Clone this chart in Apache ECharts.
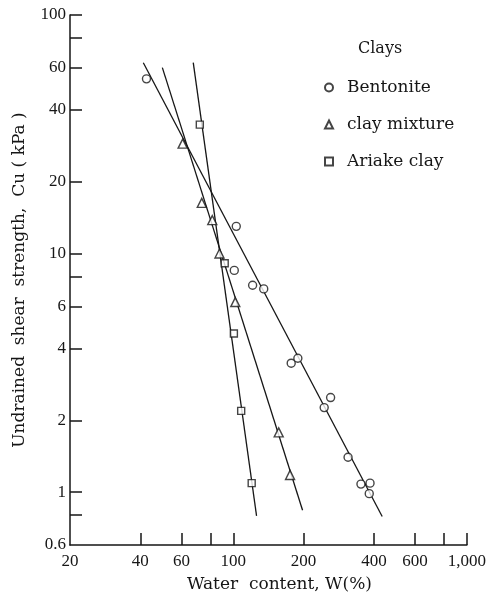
<!DOCTYPE html>
<html>
<head>
<meta charset="utf-8">
<script src="https://cdn.jsdelivr.net/npm/echarts@6/dist/echarts.min.js"></script>
<style>
  html, body { margin: 0; padding: 0; background: #fff; }
  #chart { width: 489px; height: 598px; }
</style>
</head>
<body>
<div id="chart"></div>
<script>
// measured points, water content W (%) vs undrained shear strength Cu (kPa)
const bentoniteW = [42.5, 103, 101, 121, 135, 177, 189, 245, 261, 310, 352, 385, 382];
const bentoniteCu = [54, 13.0, 8.5, 7.36, 7.11, 3.47, 3.64, 2.26, 2.49, 1.40, 1.08, 1.09, 0.985];
const mixtureW = [60.7, 73.3, 81.3, 87.3, 102, 156.5, 175];
const mixtureCu = [28.9, 16.3, 13.8, 10.0, 6.26, 1.78, 1.18];
const ariakeW = [71.9, 91.9, 100.6, 108.1, 119.9];
const ariakeCu = [34.7, 9.11, 4.62, 2.19, 1.09];

// fitted straight lines (end points)
const bentoniteFitW = [41.2, 434];
const bentoniteFitCu = [63.1, 0.79];
const mixtureFitW = [49.7, 198];
const mixtureFitCu = [60.2, 0.839];
const ariakeFitW = [67.4, 125.8];
const ariakeFitCu = [63.1, 0.795];

// axis ticks / labels
const xTicks = [40, 60, 80, 100, 200, 400, 600, 800, 1000];
const xLabels = [20, 40, 60, 100, 200, 400, 600, 1000];
const yTicks = [0.8, 1, 2, 4, 6, 8, 10, 20, 40, 60, 80, 100];
const yLabels = [0.6, 1, 2, 4, 6, 10, 20, 40, 60, 100];

const ink = '#161616';
const serif = 'DejaVu Serif';
const numFont = 'Liberation Serif';

function pairs(xs, ys) {
  return xs.map((x, i) => [x, ys[i]]);
}

function pointSeries(name, symbol, size, xs, ys) {
  return {
    name: name,
    type: 'scatter',
    symbol: symbol,
    symbolSize: size,
    z: 3,
    itemStyle: { color: '#fff', borderColor: ink, borderWidth: 1.4 },
    data: pairs(xs, ys)
  };
}

function fitSeries(name, xs, ys) {
  return {
    name: name,
    type: 'line',
    showSymbol: false,
    symbol: 'none',
    z: 2,
    lineStyle: { color: ink, width: 1.3 },
    data: pairs(xs, ys),
    silent: true
  };
}

let myChart = echarts.init(document.getElementById('chart'));
myChart.setOption({
  animation: false,
  backgroundColor: '#fff',
  title: {
    text: 'Clays',
    left: 353,
    top: 36,
    textStyle: { fontFamily: serif, fontSize: 16, fontWeight: 'normal', color: ink }
  },
  legend: {
    data: ['Bentonite', 'clay mixture', 'Ariake clay'],
    orient: 'vertical',
    left: 319,
    top: 74,
    itemWidth: 8,
    itemHeight: 8,
    itemGap: 20,
    textStyle: { fontFamily: serif, fontSize: 17, color: ink, padding: [0, 0, 0, 9] }
  },
  grid: { left: 70, right: 17, top: 15, bottom: 51 },
  xAxis: {
    type: 'log',
    logBase: 10,
    min: 20,
    max: 1000,
    name: 'Water  content, W(%)',
    nameLocation: 'middle',
    nameGap: 31,
    nameTextStyle: { fontFamily: serif, fontSize: 17, color: ink, padding: [0, 0, 0, 22] },
    axisLine: { show: true, lineStyle: { color: ink, width: 1.5 } },
    axisTick: { show: true, inside: true, length: 12, customValues: xTicks, lineStyle: { color: ink, width: 1.5 } },
    axisLabel: {
      customValues: xLabels,
      margin: 8,
      fontFamily: numFont,
      fontSize: 17,
      color: ink,
      formatter: v => (v >= 1000 ? '1,000' : String(v))
    },
    splitLine: { show: false },
    minorTick: { show: false }
  },
  yAxis: {
    type: 'log',
    logBase: 10,
    min: 0.6,
    max: 100,
    name: 'Undrained  shear  strength,  Cu ( kPa )',
    nameLocation: 'middle',
    nameRotate: 90,
    nameGap: 42,
    nameTextStyle: { fontFamily: serif, fontSize: 17, color: ink },
    axisLine: { show: true, lineStyle: { color: ink, width: 1.5 } },
    axisTick: { show: true, inside: true, length: 12, customValues: yTicks, lineStyle: { color: ink, width: 1.5 } },
    axisLabel: {
      customValues: yLabels,
      margin: 4,
      fontFamily: numFont,
      fontSize: 17,
      color: ink,
      formatter: v => String(v)
    },
    splitLine: { show: false },
    minorTick: { show: false }
  },
  series: [
    fitSeries('Bentonite fit', bentoniteFitW, bentoniteFitCu),
    fitSeries('clay mixture fit', mixtureFitW, mixtureFitCu),
    fitSeries('Ariake clay fit', ariakeFitW, ariakeFitCu),
    pointSeries('Bentonite', 'circle', 8, bentoniteW, bentoniteCu),
    pointSeries('clay mixture', 'triangle', 9, mixtureW, mixtureCu),
    pointSeries('Ariake clay', 'rect', 7, ariakeW, ariakeCu)
  ]
});
</script>
</body>
</html>
